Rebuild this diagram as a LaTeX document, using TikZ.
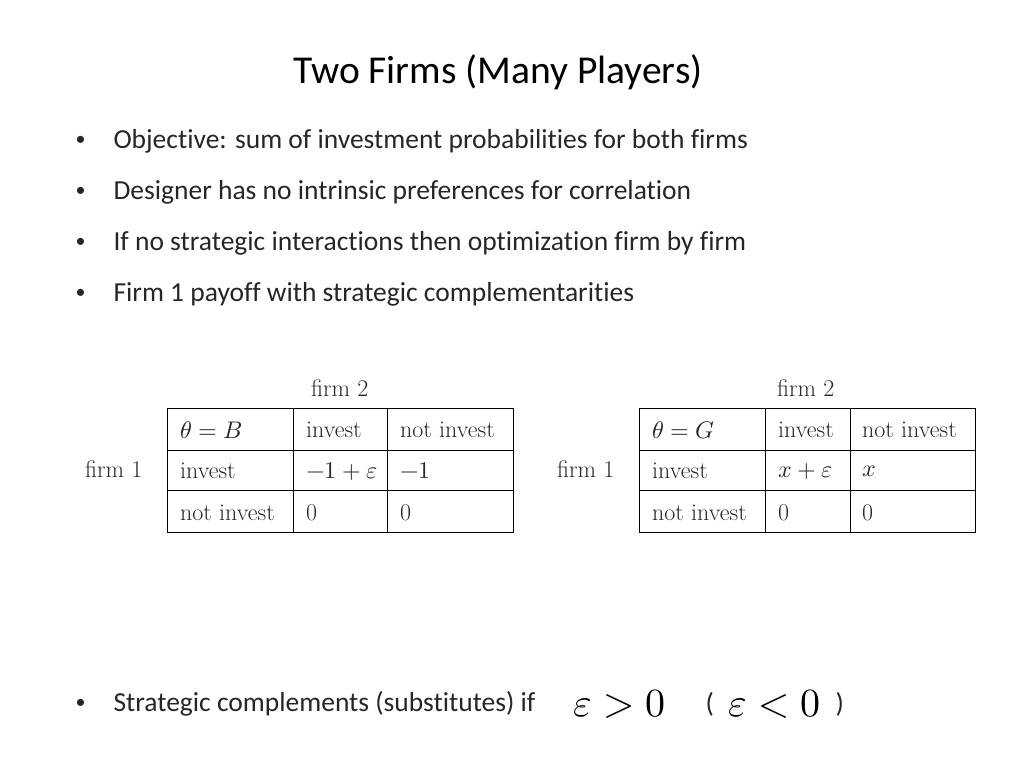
\documentclass[tikz,border=0pt]{standalone}
\usepackage{fontspec}
\setmainfont[Ligatures={NoCommon,NoRare,NoDiscretionary,NoContextual}]{Carlito}
\newfontfamily\lmfont{Latin Modern Roman}
\usepackage{unicode-math}
\begin{document}
\begin{tikzpicture}[x=1pt,y=-1pt,
  bul/.style={anchor=west,font=\fontsize{27.5}{32}\selectfont,text=black!85},
  cell/.style={anchor=west,font=\lmfont\fontsize{24}{28}\selectfont,text=black!85,inner sep=0pt},
  grid/.style={draw=black,line width=0.8pt}]
\useasboundingbox (0,0) rectangle (1024,768);
\node[font=\fontsize{39.5}{44}\selectfont] (title) at (498,72) {Two Firms (Many Players)};
\foreach \y/\t [count=\i] in {141/{Objective: sum of investment probabilities for both firms},192/{Designer has no intrinsic preferences for correlation},243/{If no strategic interactions then optimization firm by firm},294/{Firm 1 payoff with strategic complementarities}}{
  \node[bul,font=\fontsize{20}{24}\selectfont] (d\i) at (72,\y) {•};
  \node[bul] (b\i) at (110,\y) {\t};
}
\node[bul,font=\fontsize{20}{24}\selectfont] (d5) at (72,704) {•};
\node[bul] (b5) at (110,704) {Strategic complements (substitutes) if};
\node[anchor=west,font=\fontsize{40}{44}\selectfont] (e1) at (570,704) {$\varepsilon > 0$};
\node[bul] (p1) at (702,704) {(};
\node[anchor=west,font=\fontsize{40}{44}\selectfont] (e2) at (725,704) {$\varepsilon < 0$};
\node[bul] (p2) at (832,704) {)};
% table 1
\draw[grid] (167,408) rectangle (513,532);
\draw[grid] (167,450) -- (513,450) (167,490) -- (513,490) (293,408) -- (293,532) (387,408) -- (387,532);
\node[cell] (f2a) at (311,388) {firm 2};
\node[cell] (f1a) at (85,469) {firm 1};
\node[cell] (a11) at (180,430) {$\theta = B$};
\node[cell] (a12) at (306,430) {invest};
\node[cell] (a13) at (400,430) {not invest};
\node[cell] (a21) at (180,471) {invest};
\node[cell] (a22) at (306,471) {$-1+\varepsilon$};
\node[cell] (a23) at (400,471) {$-1$};
\node[cell] (a31) at (180,513) {not invest};
\node[cell] (a32) at (306,513) {0};
\node[cell] (a33) at (400,513) {0};
% table 2
\draw[grid] (639,408) rectangle (975,532);
\draw[grid] (639,450) -- (975,450) (639,490) -- (975,490) (765,408) -- (765,532) (850,408) -- (850,532);
\node[cell] (f2b) at (777,388) {firm 2};
\node[cell] (f1b) at (557,469) {firm 1};
\node[cell] (c11) at (652,430) {$\theta = G$};
\node[cell] (c12) at (778,430) {invest};
\node[cell] (c13) at (862,430) {not invest};
\node[cell] (c21) at (652,471) {invest};
\node[cell] (c22) at (778,471) {$x+\varepsilon$};
\node[cell] (c23) at (862,471) {$x$};
\node[cell] (c31) at (652,513) {not invest};
\node[cell] (c32) at (778,513) {0};
\node[cell] (c33) at (862,513) {0};
\end{tikzpicture}
\end{document}
